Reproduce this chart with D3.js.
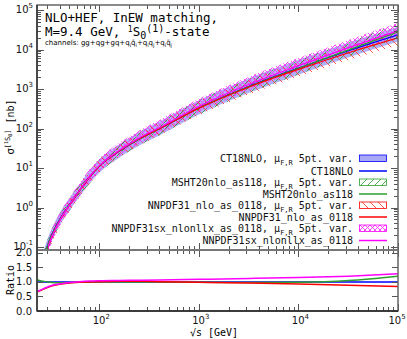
<!DOCTYPE html>
<html><head><meta charset="utf-8">
<script src="https://cdn.jsdelivr.net/npm/d3@7"></script>
<style>body{margin:0;background:#fff}svg{display:block}</style>
</head><body><svg id="c" width="407" height="339"></svg>
<script>
// ---------------- data ----------------
const sqrtS   = [24, 28, 32, 40, 50, 63, 80, 100, 160, 250, 400, 1000, 3200, 10000, 32000, 100000];
const ct18Sig = [0.021, 0.063, 0.16, 0.50, 1.17, 2.63, 5.9, 11.0, 26.9, 53.7, 97.7, 331, 1175, 3390, 9330, 23400];
// ratios to CT18NLO central
const mshtRatio  = [1.07, 1.02, 0.99, 0.97, 0.98, 0.99, 1.00, 1.00, 1.00, 1.00, 1.00, 0.99, 0.98, 0.99, 1.05, 1.20];
const nnpdfRatio = [0.66, 0.76, 0.84, 0.92, 0.96, 0.99, 1.00, 1.01, 1.02, 1.02, 1.01, 0.99, 0.96, 0.93, 0.89, 0.84];
const sxRatio    = [0.68, 0.78, 0.86, 0.93, 0.98, 1.01, 1.03, 1.04, 1.05, 1.06, 1.07, 1.09, 1.12, 1.15, 1.20, 1.28];
// scale-variation envelopes, relative to each set's own central value
const ct18Up  = [1.45, 1.45, 1.45, 1.45, 1.46, 1.46, 1.47, 1.48, 1.50, 1.52, 1.54, 1.57, 1.60, 1.62, 1.62, 1.62];
const ct18Dn  = [0.70, 0.70, 0.70, 0.70, 0.70, 0.70, 0.69, 0.69, 0.69, 0.68, 0.68, 0.68, 0.68, 0.68, 0.68, 0.68];
const mshtUp  = [1.44, 1.44, 1.44, 1.44, 1.45, 1.45, 1.46, 1.47, 1.49, 1.50, 1.52, 1.55, 1.57, 1.58, 1.58, 1.57];
const mshtDn  = [0.71, 0.71, 0.71, 0.71, 0.71, 0.70, 0.70, 0.70, 0.69, 0.69, 0.69, 0.69, 0.69, 0.69, 0.70, 0.70];
const nnpdfUp = [1.40, 1.40, 1.41, 1.42, 1.43, 1.44, 1.45, 1.46, 1.47, 1.48, 1.50, 1.52, 1.54, 1.55, 1.55, 1.55];
const nnpdfDn = [0.70, 0.70, 0.70, 0.69, 0.69, 0.69, 0.68, 0.68, 0.68, 0.67, 0.67, 0.66, 0.65, 0.65, 0.65, 0.65];
const sxUp    = [1.50, 1.50, 1.50, 1.51, 1.51, 1.52, 1.52, 1.53, 1.54, 1.55, 1.55, 1.56, 1.56, 1.56, 1.56, 1.56];
const sxDn    = [0.72, 0.72, 0.72, 0.72, 0.72, 0.72, 0.72, 0.72, 0.72, 0.72, 0.72, 0.72, 0.72, 0.72, 0.72, 0.72];
const ratioTicks = [0.0, 0.5, 1.0, 1.5, 2.0];
const setNames = ["CT18NLO", "MSHT20nlo_as118", "NNPDF31_nlo_as_0118", "NNPDF31sx_nlonllx_as_0118"];
const setColors = ["#0000ff", "#2e9e2e", "#ff0000", "#ff00ff"];

// ---------------- layout ----------------
const svg = d3.select("#c");
const L = 37, R = 398, T = 5, MB = 250, RB = 311;
const x = d3.scaleLog().domain([23.7, 1e5]).range([L, R]);
const y = d3.scaleLog().domain([Math.pow(10, -1.076), Math.pow(10, 5.127)]).range([MB, T]);
const yr = d3.scaleLinear().domain([0, 2.1]).range([RB, MB]);

const defs = svg.append("defs");
defs.append("clipPath").attr("id", "cm").append("rect").attr("x", L).attr("y", T).attr("width", R - L).attr("height", MB - T);
defs.append("clipPath").attr("id", "cr").append("rect").attr("x", L).attr("y", MB).attr("width", R - L).attr("height", RB - MB);
function hatch(id, color, w, paths, sw) {
  const p = defs.append("pattern").attr("id", id).attr("patternUnits", "userSpaceOnUse").attr("width", w).attr("height", w);
  paths.forEach(d => p.append("path").attr("d", d).attr("stroke", color).attr("stroke-width", sw).attr("fill", "none"));
}
hatch("hG", "#3aa83a", 7, ["M0,7L7,0", "M-1,1L1,-1", "M6,8L8,6"], 0.9);
hatch("hR", "#ff4040", 8, ["M0,0L8,8", "M-1,7L1,9", "M7,-1L9,1"], 0.9);
hatch("hM", "#ff30ff", 5, ["M0,0L5,5", "M0,5L5,0"], 0.9);

const data = sqrtS.map((s, i) => {
  const c = ct18Sig[i];
  return {
    s,
    sets: [
      { c: c, up: c * ct18Up[i], dn: c * ct18Dn[i], r: 1 },
      { c: c * mshtRatio[i], up: c * mshtRatio[i] * mshtUp[i], dn: c * mshtRatio[i] * mshtDn[i], r: mshtRatio[i] },
      { c: c * nnpdfRatio[i], up: c * nnpdfRatio[i] * nnpdfUp[i], dn: c * nnpdfRatio[i] * nnpdfDn[i], r: nnpdfRatio[i] },
      { c: c * sxRatio[i], up: c * sxRatio[i] * sxUp[i], dn: c * sxRatio[i] * sxDn[i], r: sxRatio[i] }
    ]
  };
});

const gm = svg.append("g").attr("clip-path", "url(#cm)");
const fills = ["#b0b0f8", "url(#hG)", "url(#hR)", "url(#hM)"];
[0, 1, 2, 3].forEach(k => {
  const area = d3.area().x(d => x(d.s)).y0(d => y(d.sets[k].dn)).y1(d => y(d.sets[k].up)).curve(d3.curveMonotoneX);
  gm.append("path").datum(data).attr("d", area).attr("fill", fills[k]);
});
[0, 1, 2, 3].forEach(k => {
  const line = d3.line().x(d => x(d.s)).y(d => y(d.sets[k].c)).curve(d3.curveMonotoneX);
  gm.append("path").datum(data).attr("d", line).attr("fill", "none").attr("stroke", setColors[k]).attr("stroke-width", 1.2);
});

const gr = svg.append("g").attr("clip-path", "url(#cr)");
[0, 1, 2, 3].forEach(k => {
  const line = d3.line().x(d => x(d.s)).y(d => yr(d.sets[k].r)).curve(d3.curveMonotoneX);
  gr.append("path").datum(data).attr("d", line).attr("fill", "none").attr("stroke", setColors[k]).attr("stroke-width", 1.5);
});

// ---------------- axes ----------------
const ax = svg.append("g").attr("stroke", "#555").attr("stroke-width", 1);
const isMajor = v => Math.abs(Math.log10(v) - Math.round(Math.log10(v))) < 1e-6;
const xt = x.ticks().filter(v => v >= 23.7 && v <= 1e5);
xt.forEach(v => {
  const px = Math.round(x(v)) + 0.5, len = isMajor(v) ? 7 : 4;
  [[MB, -len], [T, len], [MB, len], [RB, -len]].forEach(([y0, dl]) =>
    ax.append("line").attr("x1", px).attr("x2", px).attr("y1", y0).attr("y2", y0 + dl));
});
const yt = y.ticks().filter(v => y(v) <= MB && y(v) >= T);
yt.forEach(v => {
  const py = Math.round(y(v)) + 0.5, len = isMajor(v) ? 7 : 4;
  ax.append("line").attr("x1", L).attr("x2", L + len).attr("y1", py).attr("y2", py);
  ax.append("line").attr("x1", R).attr("x2", R - len).attr("y1", py).attr("y2", py);
});
ratioTicks.forEach(v => {
  const py = Math.round(yr(v)) + 0.5;
  ax.append("line").attr("x1", L).attr("x2", L + 6).attr("y1", py).attr("y2", py);
  ax.append("line").attr("x1", R).attr("x2", R - 6).attr("y1", py).attr("y2", py);
});
// frames
svg.append("rect").attr("x", L).attr("y", T).attr("width", R - L).attr("height", RB - T)
  .attr("fill", "none").attr("stroke", "#666").attr("stroke-width", 1.5);
svg.append("line").attr("x1", L).attr("x2", R).attr("y1", MB).attr("y2", MB).attr("stroke", "#777").attr("stroke-width", 2);
svg.append("line").attr("x1", L).attr("x2", R).attr("y1", RB).attr("y2", RB).attr("stroke", "#222").attr("stroke-width", 1.5);
svg.append("line").attr("x1", L).attr("x2", L).attr("y1", T).attr("y2", RB).attr("stroke", "#333").attr("stroke-width", 1.5);

// tick labels
const tl = svg.append("g").attr("font-family", "DejaVu Sans").attr("font-size", 10).attr("fill", "#111");
yt.filter(isMajor).forEach(v => {
  const e = Math.round(Math.log10(v));
  const t = tl.append("text").attr("x", 33).attr("y", y(v) + 3).attr("text-anchor", "end");
  t.append("tspan").text("10");
  t.append("tspan").attr("dy", -5).attr("font-size", 7).text(e);
});
xt.filter(isMajor).forEach(v => {
  const e = Math.round(Math.log10(v));
  const t = tl.append("text").attr("x", Math.min(x(v) + 2, 397)).attr("y", 324).attr("text-anchor", "middle");
  t.append("tspan").text("10");
  t.append("tspan").attr("dy", -5).attr("font-size", 7).text(e);
});
ratioTicks.forEach(v => {
  tl.append("text").attr("x", 32).attr("y", yr(v) + 3.5).attr("text-anchor", "end").text(d3.format(".1f")(v));
});

// axis titles
const mono = "DejaVu Sans Mono";
svg.append("text").attr("x", 214).attr("y", 336).attr("text-anchor", "middle").attr("font-family", mono).attr("font-size", 10).text("√s [GeV]");
const yl = svg.append("text").attr("transform", "translate(14,127) rotate(-90)").attr("text-anchor", "middle").attr("font-family", mono).attr("font-size", 10);
yl.append("tspan").attr("font-family", "DejaVu Sans").text("σ");
yl.append("tspan").attr("dy", -4).attr("font-size", 7).text("[");
yl.append("tspan").attr("dy", -2).attr("font-size", 5).text("1");
yl.append("tspan").attr("dy", 2).attr("font-size", 7).text("S");
yl.append("tspan").attr("dy", 2).attr("font-size", 5).text("0");
yl.append("tspan").attr("dy", -2).attr("font-size", 7).text("]");
yl.append("tspan").attr("dy", 4).text(" [nb]");
svg.append("text").attr("transform", "translate(14,280) rotate(-90)").attr("text-anchor", "middle").attr("font-family", mono).attr("font-size", 10).text("Ratio");

// title
svg.append("text").attr("x", 45).attr("y", 22).attr("font-family", mono).attr("font-size", 12.5).text("NLO+HEF, InEW matching,");
const t2 = svg.append("text").attr("x", 45).attr("y", 36).attr("font-family", mono).attr("font-size", 12.5);
t2.append("tspan").text("M=9.4 GeV, ");
t2.append("tspan").attr("dy", -4).attr("font-size", 8).text("1");
t2.append("tspan").attr("dy", 4).text("S");
t2.append("tspan").attr("dy", 3).attr("font-size", 10).text("0");
t2.append("tspan").attr("dy", -7).attr("font-size", 10).text("(1)");
t2.append("tspan").attr("dy", 4).text("-state");
const t3 = svg.append("text").attr("x", 45).attr("y", 45).attr("font-family", "DejaVu Sans").attr("font-size", 7);
t3.append("tspan").text("channels: gg+qg+gq+q");
const sub = (txt) => { t3.append("tspan").attr("dy", 1.5).attr("font-size", 5).text(txt); };
const back = (txt) => { t3.append("tspan").attr("dy", -1.5).text(txt); };
sub("i"); back("q\u0304"); sub("i"); back("+q"); sub("i"); back("q"); sub("j"); back("+q"); sub("i"); back("q\u0304"); sub("j");

// legend
const lg = svg.append("g").attr("font-family", mono).attr("font-size", 10).attr("fill", "#111");
const rowY = [158.5, 171, 182.5, 194, 205.5, 217, 228.5, 240.5];
setNames.forEach((n, k) => {
  const yb = rowY[2 * k], yl2 = rowY[2 * k + 1];
  const t = lg.append("text").attr("x", 353).attr("y", yb + 3.5).attr("text-anchor", "end");
  t.append("tspan").text(n + ", μ");
  t.append("tspan").attr("dy", 2.5).attr("font-size", 7).text("F,R");
  t.append("tspan").attr("dy", -2.5).text(" 5pt. var.");
  lg.append("rect").attr("x", 359.5).attr("y", yb - 3.5).attr("width", 27).attr("height", 6.5)
    .attr("fill", k === 0 ? "#a8a8f6" : fills[k]).attr("stroke", setColors[k]).attr("stroke-width", 0.8);
  lg.append("text").attr("x", 353).attr("y", yl2 + 3.5).attr("text-anchor", "end").text(n);
  lg.append("line").attr("x1", 359).attr("x2", 387).attr("y1", yl2).attr("y2", yl2).attr("stroke", setColors[k]).attr("stroke-width", 1.5);
});
</script></body></html>
